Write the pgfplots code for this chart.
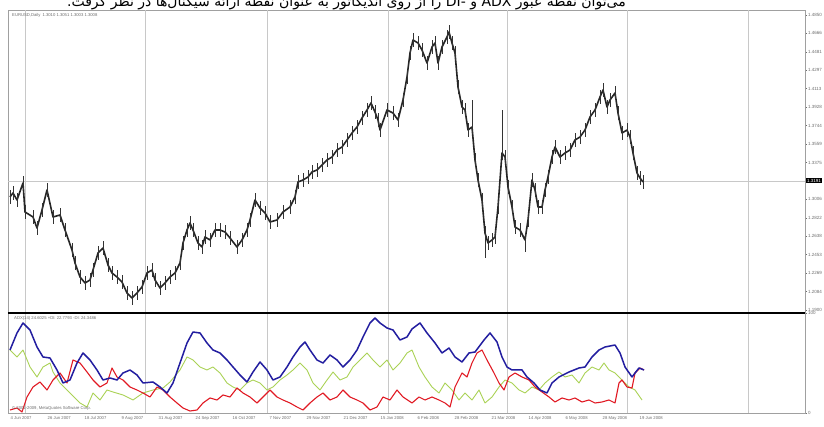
\documentclass[border=0pt]{standalone}
\usepackage{pgfplots}
\pgfplotsset{compat=1.18}
\usepackage{fontspec}
\setmainfont{Liberation Sans}
\newfontfamily\arabicfont[Script=Arabic]{DejaVu Sans}
\TeXXeTstate=1
\definecolor{adxblue}{RGB}{35,30,160}
\definecolor{dired}{RGB}{225,25,35}
\definecolor{digreen}{RGB}{170,210,85}
\definecolor{gridgray}{RGB}{200,200,200}
\definecolor{labgray}{RGB}{110,110,110}
\begin{document}
\begin{tikzpicture}[x=1pt,y=1pt]
\clip (0,0) rectangle (824,427);
\fill[white] (0,0) rectangle (824,427);
\node[anchor=east, inner sep=0pt, font=\arabicfont\fontsize{14}{15}\selectfont] at (626,425)
 {\beginR می‌توان نقطه عبور \beginL ADX\endL{} و \beginL DI-\endL{} را از روی اندیکاتور به عنوان نقطه ارائه سیگنال‌ها در نظر گرفت.\endR};
% ---------------- price panel ----------------
\begin{axis}[
  at={(8,115)}, anchor=south west,
  width=797, height=302, scale only axis, clip=false,
  xmin=8, xmax=805, ymin=1.188, ymax=1.490,
  axis line style={gridgray!80!black, line width=0.5pt},
  xtick=\empty,
  extra x ticks={25,145,267,388,507,627,748},
  extra x tick labels={},
  extra x tick style={grid=major, major tick length=0pt},
  grid style={gridgray, line width=0.6pt},
  ytick={1.4850,1.4666,1.4481,1.4297,1.4113,1.3928,1.3744,1.3559,1.3375,1.3006,1.2822,1.2638,1.2453,1.2269,1.2084,1.1900},
  yticklabel pos=right, ytick pos=right, tick align=outside,
  major tick length=2pt, tick style={labgray, line width=0.4pt},
  extra y ticks={1.3191}, extra y tick labels={},
  extra y tick style={grid=major, major tick length=0pt},
  yticklabel style={font=\fontsize{4.5}{5}\selectfont, text=labgray, inner sep=0.8pt,
    /pgf/number format/.cd, fixed, fixed zerofill, precision=4, assume math mode=true},
]
\addplot[black!85, line width=1.6pt, line join=round,
  error bars/.cd, y dir=both, y explicit, error mark=none,
  error bar style={black!80, line width=0.8pt}]
coordinates {
(10,1.303) +- (0,0.007) (13,1.307) +- (0,0.007) (17,1.300) +- (0,0.007) (23,1.317) +- (0,0.007)
(25,1.288) +- (0,0.007) (33,1.283) +- (0,0.007) (37,1.272) +- (0,0.007) (42,1.290) +- (0,0.007)
(47,1.310) +- (0,0.007) (53,1.283) +- (0,0.007) (60,1.285) +- (0,0.007) (65,1.270) +- (0,0.007)
(72,1.250) +- (0,0.007) (75,1.237) +- (0,0.007) (80,1.223) +- (0,0.007) (85,1.217) +- (0,0.007)
(90,1.220) +- (0,0.007) (93,1.230) +- (0,0.007) (98,1.247) +- (0,0.007) (103,1.252) +- (0,0.007)
(108,1.235) +- (0,0.007) (112,1.227) +- (0,0.007) (117,1.223) +- (0,0.007) (122,1.218) +- (0,0.007)
(127,1.207) +- (0,0.007) (132,1.202) +- (0,0.007) (137,1.207) +- (0,0.007) (142,1.213) +- (0,0.007)
(147,1.227) +- (0,0.007) (152,1.230) +- (0,0.007) (155,1.220) +- (0,0.007) (160,1.212) +- (0,0.007)
(165,1.217) +- (0,0.007) (170,1.223) +- (0,0.007) (175,1.227) +- (0,0.007) (180,1.237) +- (0,0.007)
(183,1.257) +- (0,0.007) (187,1.270) +- (0,0.007) (190,1.277) +- (0,0.007) (193,1.270) +- (0,0.007)
(198,1.257) +- (0,0.007) (202,1.253) +- (0,0.007) (205,1.263) +- (0,0.007) (210,1.260) +- (0,0.007)
(215,1.270) +- (0,0.007) (220,1.270) +- (0,0.007) (225,1.268) +- (0,0.007) (230,1.262) +- (0,0.007)
(237,1.253) +- (0,0.007) (242,1.260) +- (0,0.007) (247,1.270) +- (0,0.007) (250,1.280) +- (0,0.007)
(255,1.300) +- (0,0.007) (260,1.292) +- (0,0.007) (265,1.287) +- (0,0.007) (270,1.278) +- (0,0.007)
(277,1.280) +- (0,0.007) (283,1.288) +- (0,0.007) (290,1.293) +- (0,0.007) (295,1.303) +- (0,0.007)
(298,1.318) +- (0,0.007) (303,1.320) +- (0,0.007) (308,1.323) +- (0,0.007) (312,1.328) +- (0,0.007)
(317,1.330) +- (0,0.007) (322,1.335) +- (0,0.007) (327,1.340) +- (0,0.007) (332,1.343) +- (0,0.007)
(337,1.350) +- (0,0.007) (342,1.353) +- (0,0.007) (347,1.360) +- (0,0.007) (352,1.367) +- (0,0.007)
(357,1.373) +- (0,0.007) (362,1.382) +- (0,0.007) (367,1.390) +- (0,0.007) (371,1.397) +- (0,0.007)
(375,1.388) +- (0,0.007) (378,1.380) +- (0,0.007) (380,1.370) +- (0,0.007) (387,1.390) +- (0,0.007)
(393,1.387) +- (0,0.007) (398,1.380) +- (0,0.007) (403,1.400) +- (0,0.007) (407,1.423) +- (0,0.007)
(410,1.447) +- (0,0.007) (413,1.460) +- (0,0.007) (418,1.457) +- (0,0.007) (422,1.450) +- (0,0.007)
(427,1.437) +- (0,0.007) (432,1.453) +- (0,0.007) (435,1.457) +- (0,0.007) (438,1.437) +- (0,0.007)
(442,1.453) +- (0,0.007) (447,1.463) +- (0,0.007) (449,1.468) +- (0,0.007) (452,1.457) +- (0,0.007)
(455,1.447) +- (0,0.007) (458,1.413) +- (0,0.007) (462,1.393) +- (0,0.007) (465,1.390) +- (0,0.007)
(468,1.370) +- (0,0.007) (472,1.373) += (0,0.027) -= (0,0.007) (475,1.340) +- (0,0.007) (478,1.320) +- (0,0.007)
(482,1.300) +- (0,0.007) (485,1.267) += (0,0.007) -= (0,0.025) (488,1.257) +- (0,0.007) (492,1.260) +- (0,0.007)
(495,1.263) +- (0,0.007) (498,1.293) +- (0,0.007) (502,1.347) += (0,0.043) -= (0,0.007) (505,1.343) +- (0,0.007)
(508,1.313) +- (0,0.007) (512,1.293) +- (0,0.007) (515,1.273) +- (0,0.007) (520,1.270) +- (0,0.007)
(525,1.260) += (0,0.007) -= (0,0.012) (528,1.280) +- (0,0.007) (532,1.320) +- (0,0.007) (535,1.310) +- (0,0.007)
(538,1.293) +- (0,0.007) (542,1.293) +- (0,0.007) (545,1.310) +- (0,0.007) (548,1.323) +- (0,0.007)
(552,1.343) +- (0,0.007) (555,1.353) +- (0,0.007) (560,1.343) +- (0,0.007) (565,1.347) +- (0,0.007)
(570,1.350) +- (0,0.007) (575,1.360) +- (0,0.007) (580,1.363) +- (0,0.007) (585,1.370) +- (0,0.007)
(590,1.383) +- (0,0.007) (595,1.390) +- (0,0.007) (600,1.403) +- (0,0.007) (603,1.410) +- (0,0.007)
(607,1.393) +- (0,0.007) (610,1.400) +- (0,0.007) (615,1.407) +- (0,0.007) (618,1.387) +- (0,0.007)
(622,1.367) +- (0,0.007) (627,1.370) +- (0,0.007) (630,1.363) +- (0,0.007) (633,1.347) +- (0,0.007)
(637,1.327) +- (0,0.007) (640,1.322) +- (0,0.007) (643,1.318) +- (0,0.007)
};
\node[anchor=west, fill=black, text=white, inner sep=0.8pt, font=\fontsize{4.5}{5}\selectfont] at (axis cs:806,1.3191) {1.3191};
\node[anchor=north west, inner sep=0pt, text=labgray, font=\fontsize{4.2}{5}\selectfont] at (axis cs:12,1.487) {EURUSD,Daily\enspace 1.3010 1.3051 1.3003 1.3008};
\end{axis}
% ---------------- ADX panel ----------------
\begin{axis}[
  at={(8,14)}, anchor=south west,
  width=797, height=100, scale only axis, clip=false,
  xmin=8, xmax=805, ymin=0, ymax=100,
  axis line style={gridgray!80!black, line width=0.5pt},
  xtick={10,47,84,121,158,195,232,269,306,343,380,417,454,491,528,565,602,639},
  xticklabels={4 Jun 2007,26 Jun 2007,18 Jul 2007,9 Aug 2007,31 Aug 2007,24 Sep 2007,16 Oct 2007,7 Nov 2007,29 Nov 2007,21 Dec 2007,15 Jan 2008,6 Feb 2008,28 Feb 2008,21 Mar 2008,14 Apr 2008,6 May 2008,28 May 2008,19 Jun 2008},
  xticklabel style={anchor=north west, inner sep=0.5pt, yshift=-1pt, text=labgray, font=\fontsize{4.2}{5}\selectfont},
  xtick style={draw=none},
  extra x ticks={25,145,267,388,507,627,748},
  extra x tick labels={},
  extra x tick style={grid=major, major tick length=0pt},
  grid style={gridgray, line width=0.6pt},
  ytick={0,100}, yticklabels={0,100},
  yticklabel pos=right, ytick pos=right, tick align=outside,
  ytick style={labgray, line width=0.4pt}, major tick length=2pt,
  yticklabel style={font=\fontsize{4.5}{5}\selectfont, text=labgray, inner sep=0.8pt},
]
\draw[black, line width=1.4pt] (rel axis cs:0,1) -- (rel axis cs:1,1);
\addplot[digreen, line width=0.9pt, line join=round] coordinates {
(10,63) (17,56) (23,63) (30,46) (37,36) (43,46) (50,50) (53,41) (60,30) (70,20) (80,10) (87,6)
(93,20) (100,13) (107,23) (113,21) (123,18) (133,13) (143,20) (153,23) (163,25) (170,31) (180,43)
(187,56) (193,53) (200,46) (207,43) (213,46) (220,40) (227,30) (233,26) (240,23) (247,30) (253,33)
(260,30) (267,23) (273,26) (280,33) (287,38) (293,43) (300,50) (307,43) (313,30) (320,23) (327,33)
(333,41) (340,33) (347,36) (353,46) (360,53) (367,60) (373,53) (380,46) (387,53) (393,43) (400,50)
(407,60) (412,63) (419,46) (425,36) (432,26) (439,20) (445,30) (452,23) (459,13) (465,20) (472,13)
(479,23) (485,10) (492,16) (499,26) (505,33) (512,30) (519,23) (525,20) (532,26) (539,23) (545,30)
(552,36) (559,41) (565,36) (572,38) (579,30) (585,40) (592,46) (599,43) (604,50) (609,43) (615,40)
(622,33) (629,26) (635,23) (642,13)
};
\addplot[dired, line width=1.1pt, line join=round] coordinates {
(10,3) (17,5) (22,1) (27,16) (33,26) (40,31) (47,23) (53,33) (60,40) (67,30) (73,53) (80,50) (87,41)
(93,33) (100,26) (107,30) (112,45) (117,36) (123,33) (130,26) (137,23) (143,20) (150,16) (157,26)
(163,23) (170,16) (177,10) (183,5) (190,2) (197,3) (203,10) (210,15) (217,13) (223,18) (230,16)
(237,25) (243,20) (250,16) (257,10) (263,16) (270,23) (277,16) (283,13) (290,10) (297,6) (303,3)
(310,10) (317,16) (323,20) (330,13) (337,16) (343,23) (350,16) (357,13) (363,10) (370,3) (377,6)
(383,16) (390,13) (397,23) (403,16) (412,10) (419,16) (425,13) (432,16) (439,13) (445,10) (450,6)
(455,26) (462,40) (467,36) (472,50) (477,60) (482,63) (487,53) (494,40) (499,30) (504,23) (509,36)
(515,40) (522,36) (529,33) (535,26) (542,21) (549,16) (555,11) (562,15) (569,13) (575,15) (582,11)
(589,13) (595,10) (602,11) (609,13) (615,10) (619,30) (622,33) (627,26) (632,25) (635,40) (640,45)
(644,43)
};
\addplot[adxblue, line width=1.5pt, line join=round] coordinates {
(10,63) (17,80) (23,90) (30,83) (37,66) (43,56) (50,55) (57,43) (63,30) (70,33) (77,50) (83,60)
(90,53) (97,43) (103,33) (110,35) (117,33) (123,40) (130,43) (137,38) (143,30) (153,31) (160,26)
(167,20) (173,30) (180,50) (187,70) (193,81) (200,80) (207,70) (213,63) (220,60) (227,53) (233,46)
(240,38) (247,31) (253,41) (260,51) (267,43) (273,33) (280,36) (287,46) (293,56) (300,66) (305,71)
(310,63) (317,53) (323,50) (330,58) (337,53) (343,46) (350,53) (357,63) (363,76) (370,90) (375,95)
(380,90) (387,85) (393,83) (400,73) (407,76) (412,84) (420,90) (427,80) (435,70) (442,60) (449,65)
(455,56) (462,51) (469,60) (475,61) (484,73) (490,80) (497,71) (502,56) (507,46) (512,43) (522,43)
(527,36) (534,30) (540,23) (547,20) (552,30) (559,36) (569,41) (579,45) (585,46) (592,56) (599,63)
(605,66) (615,68) (620,60) (625,46) (632,36) (635,40) (639,45) (644,43)
};
\node[anchor=north west, inner sep=0pt, text=labgray, font=\fontsize{4.2}{5}\selectfont] at (axis cs:14,97) {ADX(14) 24.6025 +DI: 22.7793 -DI: 24.3486};
\node[anchor=south west, inner sep=0pt, text=labgray, font=\fontsize{4.2}{5}\selectfont] at (axis cs:12,2) {© 2001-2009, MetaQuotes Software Corp.};
\end{axis}
\end{tikzpicture}
\end{document}
